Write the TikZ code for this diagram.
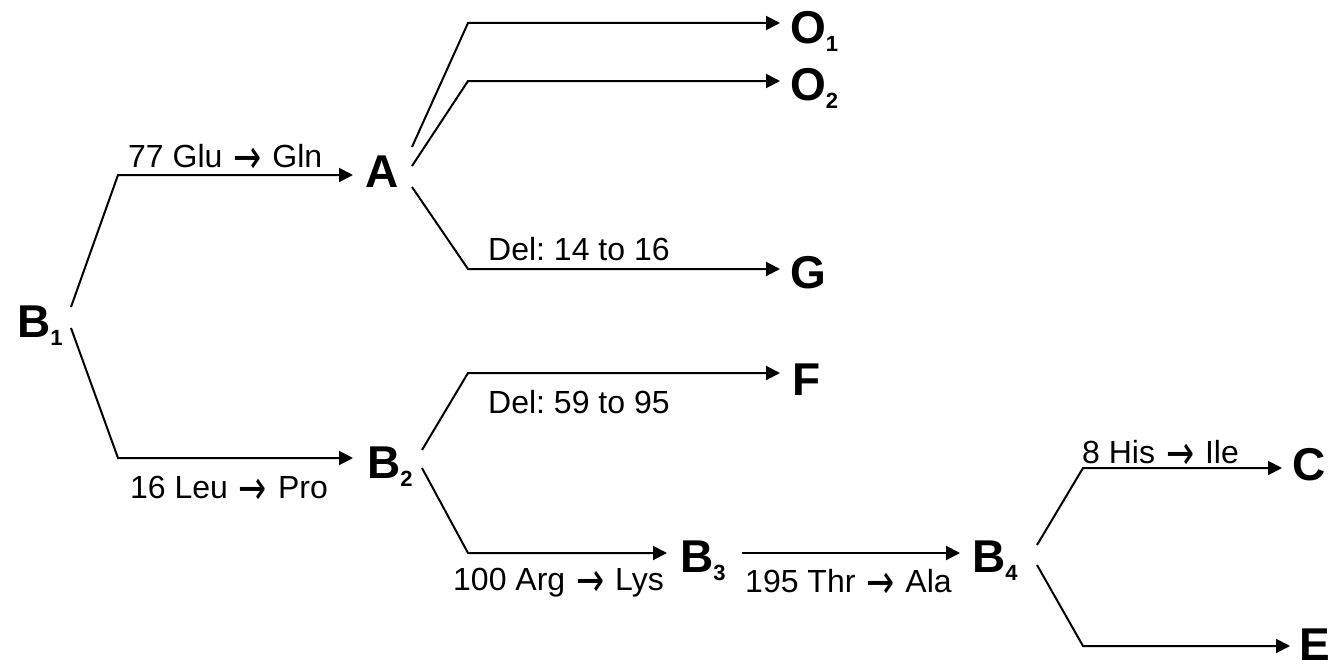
\documentclass[tikz,border=0pt]{standalone}
\usepackage{fontspec}
\setmainfont{Liberation Sans}
\newfontfamily\arrowfont{DejaVu Sans}
\usetikzlibrary{arrows.meta}
\frenchspacing
\newcommand{\letsub}[1]{\raisebox{-8pt}{\fontsize{22}{22}\selectfont #1}}
\newcommand{\toarr}{\kern2pt\raisebox{-6pt}{\scalebox{1.05}[1.5]{\arrowfont →}}\kern2pt}

\begin{document}
\begin{tikzpicture}[x=1pt, y=-1pt,
    letter/.style={inner sep=0pt, anchor=base west, font=\fontsize{46}{46}\selectfont\bfseries},
    lbl/.style={inner sep=0pt, anchor=base west, font=\fontsize{32}{32}\selectfont},
    link/.style={line width=2pt, -{Triangle[length=14pt,width=14pt]}}]
    \useasboundingbox (0,0) rectangle (1330,669);
    % strains
    \node [letter] (B1) at (17,337) {B\letsub{1}};
    \node [letter] (A) at (365,187) {A};
    \node [letter] (O1) at (790,44) {O\letsub{1}};
    \node [letter] (O2) at (790,100) {O\letsub{2}};
    \node [letter] (G) at (790,288) {G};
    \node [letter] (B2) at (367,478) {B\letsub{2}};
    \node [letter] (F) at (792,395) {F};
    \node [letter] (B3) at (680,572) {B\letsub{3}};
    \node [letter] (B4) at (972,572) {B\letsub{4}};
    \node [letter] (C) at (1292,480) {C};
    \node [letter] (E) at (1299,660) {E};
    % mutations
    \node [lbl] (gluGln) at (128,167) {77 Glu \toarr{} Gln};
    \node [lbl] (leuPro) at (130,498) {16 Leu \toarr{} Pro};
    \node [lbl] (delG) at (488,260) {Del: 14 to 16};
    \node [lbl] (delF) at (488,413) {Del: 59 to 95};
    \node [lbl] (argLys) at (453,590) {100 Arg \toarr{} Lys};
    \node [lbl] (thrAla) at (745,592) {195 Thr \toarr{} Ala};
    \node [lbl] (hisIle) at (1082,463) {8 His \toarr{} Ile};
    % branches
    \draw [link] ([shift={(54,-30)}]B1.base west) -- ++(47,-132) -- ([shift={(-12,-12)}]A.base west);
    \draw [link] ([shift={(54,-9)}]B1.base west) -- ++(47,130) -- ([shift={(-14,-20)}]B2.base west);
    \draw [link] ([shift={(47,-40)}]A.base west) -- ++(56,-124) -- ([shift={(-10,-21)}]O1.base west);
    \draw [link] ([shift={(47,-21)}]A.base west) -- ++(56,-85) -- ([shift={(-10,-19)}]O2.base west);
    \draw [link] ([shift={(47,0)}]A.base west) -- ++(56,82) -- ([shift={(-10,-19)}]G.base west);
    \draw [link] ([shift={(55,-28)}]B2.base west) -- ++(46,-77) -- ([shift={(-12,-22)}]F.base west);
    \draw [link] ([shift={(55,-10)}]B2.base west) -- ++(46,85) -- ([shift={(-13,-19)}]B3.base west);
    \draw [link] ([shift={(62,-19)}]B3.base west) -- ([shift={(-12,-19)}]B4.base west);
    \draw [link] ([shift={(65,-27)}]B4.base west) -- ++(46,-77) -- ([shift={(-10,-12)}]C.base west);
    \draw [link] ([shift={(65,-7)}]B4.base west) -- ++(46,81) -- ([shift={(-9,-14)}]E.base west);
\end{tikzpicture}
\end{document}
